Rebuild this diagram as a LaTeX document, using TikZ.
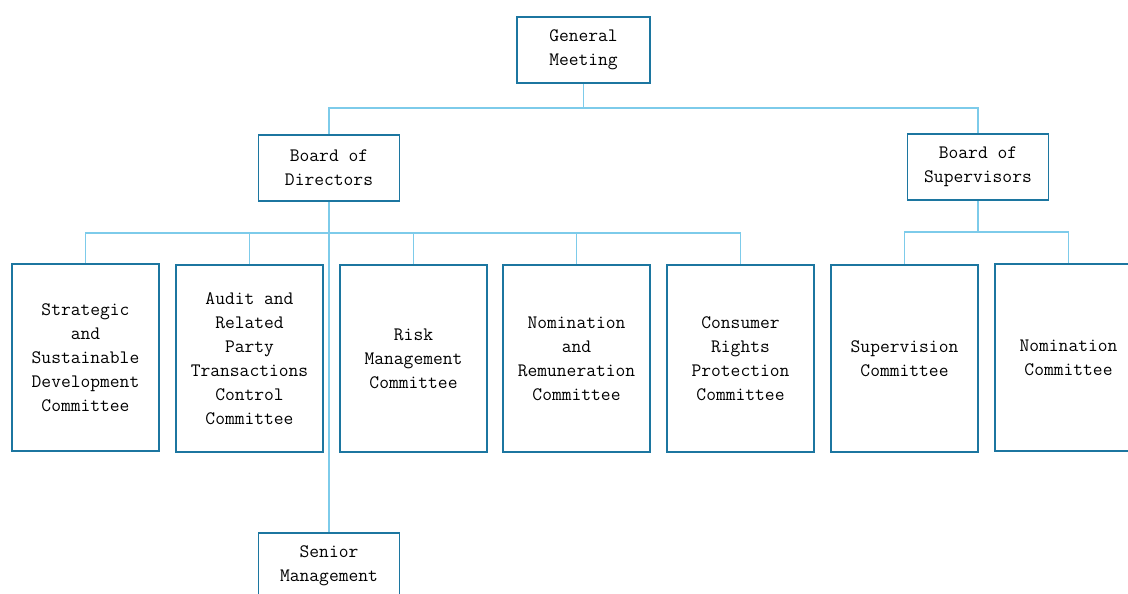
\documentclass[tikz,border=0pt]{standalone}
\usepackage{fontspec}
\begin{document}
\definecolor{boxline}{RGB}{28,118,160}
\definecolor{linkline}{RGB}{125,203,234}
\begin{tikzpicture}[x=1pt,y=-1pt,
  unit/.style={draw=boxline, line width=1.6pt, fill=white, rectangle,
    align=center, inner sep=0pt,
    font=\ttfamily\fontsize{19}{24}\selectfont},
  headbox/.style={unit, minimum width=141pt, minimum height=66pt},
  combox/.style={unit, minimum width=147pt, minimum height=187pt},
  conn/.style={draw=linkline, line width=1.6pt}]
\useasboundingbox (0,0) rectangle (1128,594);
\clip (0,0) rectangle (1128,594);

% top level
\node[headbox, minimum width=133pt] (gm) at (583.5,50) {General\\Meeting};
\node[headbox] (bod) at (329,168) {Board of\\Directors};
\node[headbox] (bos) at (978,167) {Board of\\Supervisors};

% committees of the board of directors
\node[combox] (c1) at (85.5,357.5)  {Strategic\\and\\Sustainable\\Development\\Committee};
\node[combox] (c2) at (249.5,358.5) {Audit and\\Related\\Party\\Transactions\\Control\\Committee};
\node[combox] (c3) at (413.5,358.5) {Risk\\Management\\Committee};
\node[combox] (c4) at (576.5,358.5) {Nomination\\and\\Remuneration\\Committee};
\node[combox] (c5) at (740.5,358.5) {Consumer\\Rights\\Protection\\Committee};

% committees of the board of supervisors
\node[combox] (s1) at (904.5,358.5) {Supervision\\Committee};
\node[combox] (s2) at (1068.5,357.5) {Nomination\\Committee};

% senior management
\node[headbox] (sm) at (329,566) {Senior\\Management};

% bus levels
\coordinate (b1) at (583.5,108);
\coordinate (b2) at (329,233);
\coordinate (b3) at (978,232);

% connectors
\draw[conn] (gm.south) -- (b1);
\draw[conn] (bod.north) |- (b1) -| (bos.north);

\draw[conn] (bod.south) -- (sm.north);
\draw[conn] (c1.north) |- (b2) -| (c5.north);
\draw[conn] (c2.north) -- (c2.north |- b2);
\draw[conn] (c3.north) -- (c3.north |- b2);
\draw[conn] (c4.north) -- (c4.north |- b2);

\draw[conn] (bos.south) -- (b3);
\draw[conn] (s1.north) |- (b3) -| (s2.north);
\end{tikzpicture}
\end{document}
